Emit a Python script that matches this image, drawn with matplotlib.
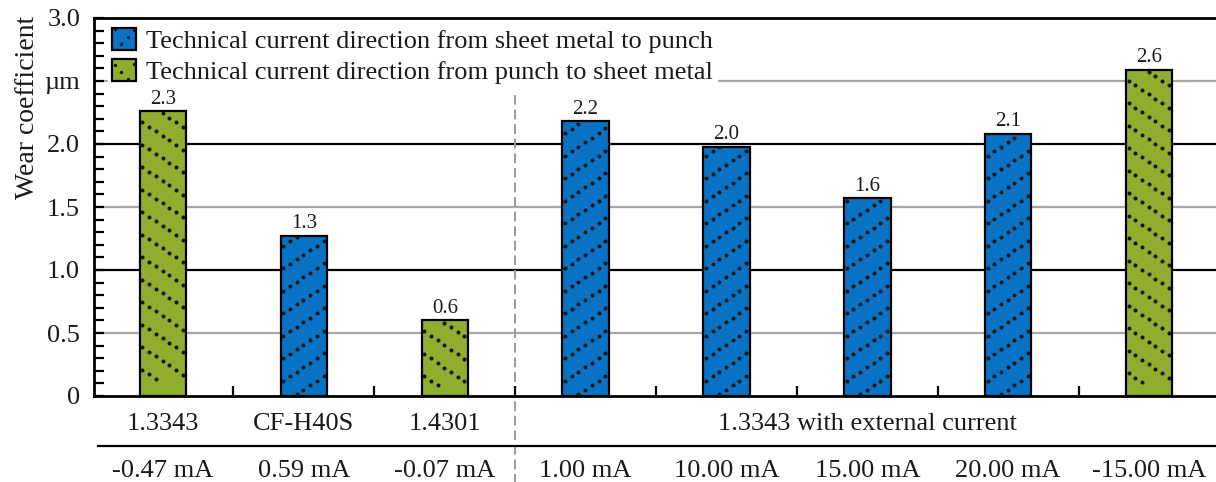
import numpy as np
import matplotlib
matplotlib.use("Agg")
import matplotlib.pyplot as plt
import matplotlib.transforms as mtransforms
from matplotlib.patches import Rectangle
from matplotlib.lines import Line2D
from matplotlib.legend_handler import HandlerBase

plt.rcParams['font.family'] = ['Liberation Serif', 'DejaVu Serif']
plt.rcParams['text.color'] = '#1a1a1a'
plt.rcParams['xtick.color'] = 'black'
plt.rcParams['ytick.color'] = 'black'
plt.rcParams['xtick.labelcolor'] = '#1a1a1a'
plt.rcParams['ytick.labelcolor'] = '#1a1a1a'

# --- data ---
materials = ['1.3343', 'CF-H40S', '1.4301']
external_label = '1.3343 with external current'
currents = ['-0.47 mA', '0.59 mA', '-0.07 mA', '1.00 mA',
            '10.00 mA', '15.00 mA', '20.00 mA', '-15.00 mA']
wear = [2.26, 1.27, 0.60, 2.18, 1.98, 1.57, 2.08, 2.59]
# 's' = sheet metal -> punch, 'p' = punch -> sheet metal
direction = ['p', 's', 'p', 's', 's', 's', 's', 'p']
series_labels = {'s': 'Technical current direction from sheet metal to punch',
                 'p': 'Technical current direction from punch to sheet metal'}
yticks = [0, 0.5, 1.0, 1.5, 2.0, 2.5, 3.0]
yticklabels = ['0', '0.5', '1.0', '1.5', '2.0', 'µm', '3.0']

colors = {'s': '#0873c4', 'p': '#8fae2e'}
dot_color = '#151515'
FS = 19

W, H = 1216, 482
fig = plt.figure(figsize=(W / 100, H / 100), dpi=100)
ax = fig.add_axes([94 / W, 1 - 396 / H, 1122 / W, 378 / H])

x = np.arange(len(wear))
xlim = (-0.49, 7.475)
ax.set_xlim(*xlim)
ax.set_ylim(0, 3.0)

# horizontal guide lines
for yv in [0.5, 1.0, 1.5, 2.0, 2.5]:
    major = abs(yv - round(yv)) < 1e-9
    ax.axhline(yv, color='black' if major else '#a6a6a6', lw=1.6, zorder=0)

bar_w = 0.33
bars = ax.bar(x, wear, width=bar_w, color=[colors[d] for d in direction],
              edgecolor='black', linewidth=1.6, zorder=2)

# pixel scale of the data axes
sx = 1122 / (xlim[1] - xlim[0])
sy = 378 / 3.0


def dot_grid(w, h, rising, step, gap, slope):
    """Dots along diagonal lines inside a w x h box (same units as input)."""
    xs, ys = [], []
    span = slope * w
    for c in np.arange(-span - gap, h + span + gap, gap):
        for xx in np.arange(step * 0.4, w, step):
            yy = c + slope * xx if rising else c - slope * xx
            if -1 <= yy <= h + 1:
                xs.append(xx)
                ys.append(yy)
    return np.array(xs), np.array(ys)


for rect, d in zip(bars, direction):
    w_px = rect.get_width() * sx
    h_px = rect.get_height() * sy
    px, py = dot_grid(w_px, h_px, d == 's', 6.7, 22.5, 0.68)
    if d == 'p':
        py = py + (h_px % 22.5)  # keep lines anchored at the top
    dots, = ax.plot(rect.get_x() + px / sx, py / sy, ls='none', marker='o',
                    ms=2.9, mfc=dot_color, mec='none', zorder=3)
    dots.set_clip_path(rect)

# value labels (kept above the legend background)
for xi, v in zip(x, wear):
    ax.text(xi, v + 0.02, f'{v:.1f}', ha='center', va='bottom', fontsize=15,
            zorder=7)

# spines and ticks
for side in ['left', 'bottom', 'top']:
    ax.spines[side].set_linewidth(2)
ax.spines['right'].set_visible(False)

ax.set_yticks(yticks)
ax.set_yticklabels(yticklabels, fontsize=FS)
ax.set_yticks(np.arange(0, 3.01, 0.1), minor=True)
ax.tick_params(axis='y', which='both', direction='in', length=7, width=1.6, pad=10,
               right=False)

ax.set_xticks(x)
ax.set_xticklabels(currents, fontsize=FS)
ax.set_xticks(np.arange(0.5, 7, 1.0), minor=True)
ax.tick_params(axis='x', which='major', length=0, pad=46)
ax.tick_params(axis='x', which='minor', direction='in', length=7, width=1.6)

# material row under the axis
blend = mtransforms.blended_transform_factory(ax.transData, ax.transAxes)
row_y = (396 - 424) / 378
for xi, name in zip(x[:3], materials):
    ax.text(xi, row_y, name, transform=blend, ha='center', va='center', fontsize=FS)
ax.text(x[3:].mean(), row_y, external_label, transform=blend,
        ha='center', va='center', fontsize=FS)
sep_y = (396 - 446) / 378
ax.plot([xlim[0] + 4 / sx, xlim[1]], [sep_y, sep_y], transform=blend,
        color='black', lw=1.6, clip_on=False)

# divider between single materials and external current runs
ax.plot([2.5, 2.5], [(396 - 95) / 378, (396 - 482) / 378], transform=blend,
        color='#9a9a9a', lw=1.4, ls=(0, (5, 2.5)), clip_on=False, zorder=1)

fig.text(28 / W, 1 - 107 / H, 'Wear coefficient', rotation=90,
         ha='center', va='center', fontsize=20)


class DottedBox(HandlerBase):
    def __init__(self, rising):
        super().__init__()
        self.rising = rising

    def create_artists(self, legend, orig_handle, xdescent, ydescent,
                       width, height, fontsize, trans):
        box = Rectangle((-xdescent, -ydescent), width, height,
                        facecolor=orig_handle.get_facecolor(), edgecolor='black',
                        lw=1.6, transform=trans)
        px, py = dot_grid(width, height, self.rising, width / 3.6, height * 0.95, 1.0)
        dots = Line2D(px - xdescent, py - ydescent, ls='none', marker='o', ms=2.4,
                      mfc=dot_color, mec='none', transform=trans)
        dots.set_clip_path(box)
        return [box, dots]


h_s = Rectangle((0, 0), 1, 1, facecolor=colors['s'])
h_p = Rectangle((0, 0), 1, 1, facecolor=colors['p'])
leg = ax.legend([h_s, h_p], [series_labels['s'], series_labels['p']],
                handler_map={h_s: DottedBox(True), h_p: DottedBox(False)},
                loc='upper left', bbox_to_anchor=(14 / 1122, 1 - 6 / 378),
                borderaxespad=0, borderpad=0.15, fontsize=FS,
                handlelength=0.9, handleheight=0.9, handletextpad=0.4,
                labelspacing=0.22, frameon=True, fancybox=False,
                framealpha=1, edgecolor='white', facecolor='white')
leg.set_zorder(5)

fig.savefig('out.png', dpi=100)
